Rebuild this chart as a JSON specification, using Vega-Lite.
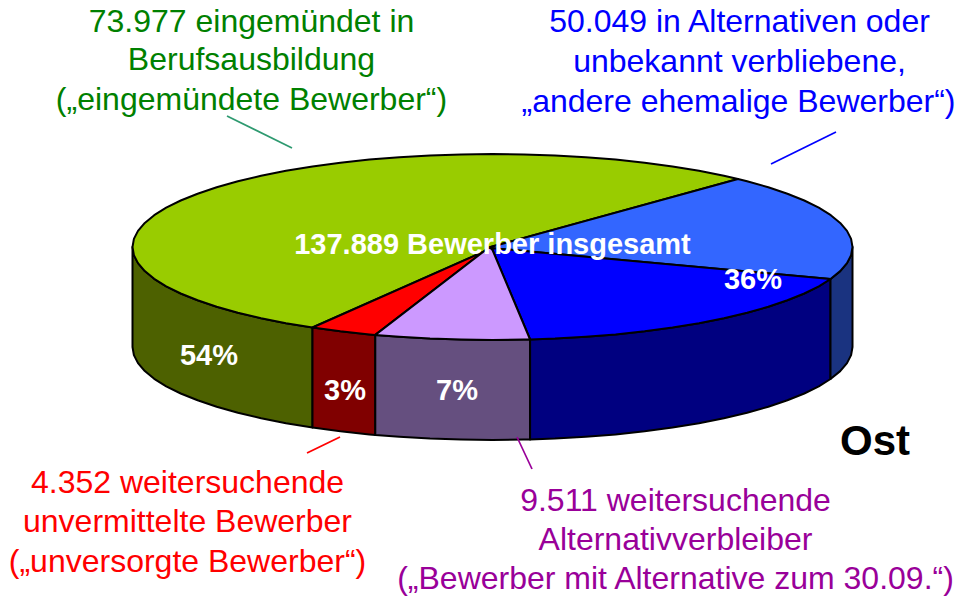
{
"$schema":"https://vega.github.io/schema/vega-lite/v6.json",
"width":957,"height":598,"padding":0,"autosize":{"type":"fit","contains":"padding"},
"background":"white",
"projection":{"type":"identity","reflectY":true,"scale":1,"translate":[492.5,247]},
"layer":[
{"data":{"values":[
{"type":"Feature","properties":{"part":"Seite eingemündet"},"geometry":{"type":"Polygon","coordinates":[[[-180,-80.5],[-206.5,-76.2],[-231.4,-71.2],[-254.6,-65.8],[-275.8,-59.8],[-294.9,-53.3],[-311.8,-46.5],[-326.3,-39.3],[-338.3,-31.8],[-347.7,-24.1],[-354.5,-16.1],[-358.6,-8.1],[-360,0],[-360,-100],[-358.6,-108.1],[-354.5,-116.1],[-347.7,-124.1],[-338.3,-131.8],[-326.3,-139.3],[-311.8,-146.5],[-294.9,-153.3],[-275.8,-159.8],[-254.6,-165.8],[-231.4,-171.2],[-206.5,-176.2],[-180,-180.5],[-180,-80.5]]]}},
{"type":"Feature","properties":{"part":"Seite unversorgt"},"geometry":{"type":"Polygon","coordinates":[[[-117.2,-87.9],[-123.1,-87.4],[-152.1,-84.3],[-180,-80.5],[-180,-180.5],[-152.1,-184.3],[-123.1,-187.4],[-117.2,-187.9],[-117.2,-87.9]]]}},
{"type":"Feature","properties":{"part":"Seite Alternative"},"geometry":{"type":"Polygon","coordinates":[[[37.6,-92.5],[31.4,-92.6],[0,-93],[-31.4,-92.6],[-62.5,-91.6],[-93.2,-89.8],[-117.2,-87.9],[-117.2,-187.9],[-93.2,-189.8],[-62.5,-191.6],[-31.4,-192.6],[0,-193],[31.4,-192.6],[37.6,-192.5],[37.6,-92.5]]]}},
{"type":"Feature","properties":{"part":"Seite andere"},"geometry":{"type":"Polygon","coordinates":[[[338,-32],[326.3,-39.3],[311.8,-46.5],[294.9,-53.3],[275.8,-59.8],[254.6,-65.8],[231.4,-71.2],[206.5,-76.2],[180,-80.5],[152.1,-84.3],[123.1,-87.4],[93.2,-89.8],[62.5,-91.6],[37.6,-92.5],[37.6,-192.5],[62.5,-191.6],[93.2,-189.8],[123.1,-187.4],[152.1,-184.3],[180,-180.5],[206.5,-176.2],[231.4,-171.2],[254.6,-165.8],[275.8,-159.8],[294.9,-153.3],[311.8,-146.5],[326.3,-139.3],[338,-132],[338,-32]]]}},
{"type":"Feature","properties":{"part":"Seite andere hell"},"geometry":{"type":"Polygon","coordinates":[[[360,0],[358.6,-8.1],[354.5,-16.1],[347.7,-24.1],[338,-32],[338,-132],[347.7,-124.1],[354.5,-116.1],[358.6,-108.1],[360,-100],[360,0]]]}},
{"type":"Feature","properties":{"part":"eingemündet"},"geometry":{"type":"Polygon","coordinates":[[[-2,0],[245.5,68],[231.4,71.2],[206.5,76.2],[180,80.5],[152.1,84.3],[123.1,87.4],[93.2,89.8],[62.5,91.6],[31.4,92.6],[0,93],[-31.4,92.6],[-62.5,91.6],[-93.2,89.8],[-123.1,87.4],[-152.1,84.3],[-180,80.5],[-206.5,76.2],[-231.4,71.2],[-254.6,65.8],[-275.8,59.8],[-294.9,53.3],[-311.8,46.5],[-326.3,39.3],[-338.3,31.8],[-347.7,24.1],[-354.5,16.1],[-358.6,8.1],[-360,0],[-358.6,-8.1],[-354.5,-16.1],[-347.7,-24.1],[-338.3,-31.8],[-326.3,-39.3],[-311.8,-46.5],[-294.9,-53.3],[-275.8,-59.8],[-254.6,-65.8],[-231.4,-71.2],[-206.5,-76.2],[-180,-80.5],[-9.5,-5],[-2,0]]]}},
{"type":"Feature","properties":{"part":"andere hell"},"geometry":{"type":"Polygon","coordinates":[[[-2,0],[-2,-1],[338,-32],[347.7,-24.1],[354.5,-16.1],[358.6,-8.1],[360,0],[358.6,8.1],[354.5,16.1],[347.7,24.1],[338.3,31.8],[326.3,39.3],[311.8,46.5],[294.9,53.3],[275.8,59.8],[254.6,65.8],[245.5,68],[-2,0]]]}},
{"type":"Feature","properties":{"part":"andere"},"geometry":{"type":"Polygon","coordinates":[[[0,-3],[37.6,-92.5],[62.5,-91.6],[93.2,-89.8],[123.1,-87.4],[152.1,-84.3],[180,-80.5],[206.5,-76.2],[231.4,-71.2],[254.6,-65.8],[275.8,-59.8],[294.9,-53.3],[311.8,-46.5],[326.3,-39.3],[338,-32],[-2,-1],[0,-3]]]}},
{"type":"Feature","properties":{"part":"unversorgt"},"geometry":{"type":"Polygon","coordinates":[[[-9.5,-5],[-180,-80.5],[-152.1,-84.3],[-123.1,-87.4],[-117.2,-87.9],[-9.5,-5]]]}},
{"type":"Feature","properties":{"part":"Alternative"},"geometry":{"type":"Polygon","coordinates":[[[-3,0],[-117.2,-87.9],[-93.2,-89.8],[-62.5,-91.6],[-31.4,-92.6],[0,-93],[31.4,-92.6],[37.6,-92.5],[0,-3],[-3,0]]]}}
]},
"mark":{"type":"geoshape","stroke":"black","strokeWidth":2,"strokeJoin":"round"},
"encoding":{"fill":{"field":"properties.part","type":"nominal","legend":null,"scale":{
"domain":["Seite eingemündet","Seite unversorgt","Seite Alternative","Seite andere","Seite andere hell","eingemündet","andere hell","andere","unversorgt","Alternative"],
"range":["#4D6100","#800000","#654F7F","#000080","#1A3380","#99CC00","#3366FF","#0000FF","#FF0000","#CC99FF"]}}}},
{"data":{"values":[
{"type":"Feature","properties":{"part":"eingemündet"},"geometry":{"type":"LineString","coordinates":[[-265.5,131],[-200.5,99]]}},
{"type":"Feature","properties":{"part":"andere"},"geometry":{"type":"LineString","coordinates":[[278.5,83],[343.5,115]]}},
{"type":"Feature","properties":{"part":"unversorgt"},"geometry":{"type":"LineString","coordinates":[[-185.5,-206],[-152.5,-190]]}},
{"type":"Feature","properties":{"part":"Alternative"},"geometry":{"type":"LineString","coordinates":[[24.5,-190],[39.5,-222]]}}
]},
"mark":{"type":"geoshape","filled":false,"strokeWidth":1.7},
"encoding":{"stroke":{"field":"properties.part","type":"nominal","legend":null,"scale":{"domain":["eingemündet","andere","unversorgt","Alternative"],"range":["#2E9A70","#0000FF","#FF0000","#990099"]}}}},
{"data":{"values":[
{"text":"73.977 eingemündet in","group":"eingemündet","lon":-241,"lat":225},
{"text":"Berufsausbildung","group":"eingemündet","lon":-241,"lat":187},
{"text":"(„eingemündete Bewerber“)","group":"eingemündet","lon":-241,"lat":147},
{"text":"50.049 in Alternativen oder","group":"andere","lon":247,"lat":225},
{"text":"unbekannt verbliebene,","group":"andere","lon":247,"lat":185},
{"text":"„andere ehemalige Bewerber“)","group":"andere","lon":246,"lat":145},
{"text":"4.352 weitersuchende","group":"unversorgt","lon":-305,"lat":-236},
{"text":"unvermittelte Bewerber","group":"unversorgt","lon":-305,"lat":-275},
{"text":"(„unversorgte Bewerber“)","group":"unversorgt","lon":-305,"lat":-315},
{"text":"9.511 weitersuchende","group":"Alternative","lon":183,"lat":-254},
{"text":"Alternativverbleiber","group":"Alternative","lon":183,"lat":-293},
{"text":"(„Bewerber mit Alternative zum 30.09.“)","group":"Alternative","lon":183,"lat":-332}
]},
"mark":{"type":"text","font":"Liberation Sans","fontSize":32,"align":"center","baseline":"middle"},
"encoding":{"longitude":{"field":"lon","type":"quantitative"},"latitude":{"field":"lat","type":"quantitative"},"text":{"field":"text"},
"color":{"field":"group","type":"nominal","legend":null,"scale":{"domain":["eingemündet","andere","unversorgt","Alternative"],"range":["#008000","#0000FF","#FF0000","#990099"]}}}},
{"data":{"values":[
{"text":"137.889 Bewerber insgesamt","lon":0,"lat":2},
{"text":"54%","lon":-283.5,"lat":-109},
{"text":"3%","lon":-147.5,"lat":-144},
{"text":"7%","lon":-35.5,"lat":-144},
{"text":"36%","lon":260.5,"lat":-33}
]},
"mark":{"type":"text","font":"Liberation Sans","fontSize":29,"fontWeight":"bold","align":"center","baseline":"middle","fill":"white"},
"encoding":{"longitude":{"field":"lon","type":"quantitative"},"latitude":{"field":"lat","type":"quantitative"},"text":{"field":"text"}}},
{"data":{"values":[{"text":"Ost","lon":382.5,"lat":-195}]},
"mark":{"type":"text","font":"Liberation Sans","fontSize":42,"fontWeight":"bold","align":"center","baseline":"middle","fill":"black"},
"encoding":{"longitude":{"field":"lon","type":"quantitative"},"latitude":{"field":"lat","type":"quantitative"},"text":{"field":"text"}}}
]
}
